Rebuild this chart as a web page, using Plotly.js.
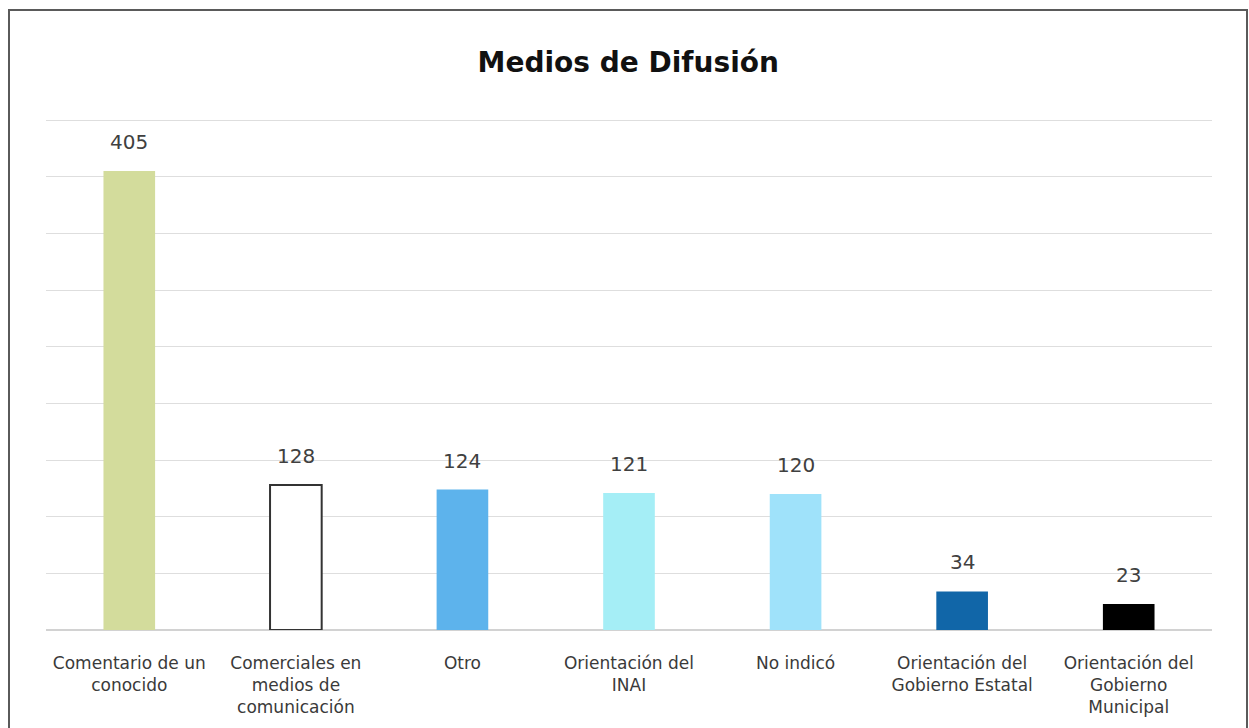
<!DOCTYPE html>
<html>
<head>
<meta charset="utf-8">
<script src="https://cdn.plot.ly/plotly-3.0.1.min.js"></script>
<style>
  html, body { margin: 0; padding: 0; background: #fff; }
  #wrap { position: relative; width: 1249px; height: 728px; }
  #chart { width: 1249px; height: 728px; }
  #frame { position: absolute; left: 8px; top: 9px; width: 1236px; height: 740px;
           border: 2px solid #5a5a5a; border-bottom: none; pointer-events: none; }
</style>
</head>
<body>
<div id="wrap">
  <div id="chart"></div>
  <div id="frame"></div>
</div>
<script>
const categories = [
  "Comentario de un<br>conocido",
  "Comerciales en<br>medios de<br>comunicación",
  "Otro",
  "Orientación del<br>INAI",
  "No indicó",
  "Orientación del<br>Gobierno Estatal",
  "Orientación del<br>Gobierno<br>Municipal"
];
const values = [405, 128, 124, 121, 120, 34, 23];
const barColors = ["#d3dc9c", "#ffffff", "#5db3ec", "#a5eef6", "#9fe2fa", "#1166a8", "#000000"];
const outlineColors = ["#d3dc9c", "#333333", "#5db3ec", "#a5eef6", "#9fe2fa", "#1166a8", "#000000"];
const outlineWidths = [0, 2, 0, 0, 0, 0, 0];

const trace = {
  type: "bar",
  x: categories,
  y: values,
  marker: { color: barColors, line: { color: outlineColors, width: outlineWidths } },
  hoverinfo: "x+y"
};

const annotations = categories.map((c, i) => ({
  x: c, y: values[i], xref: "x", yref: "y",
  text: String(values[i]), showarrow: false,
  yanchor: "middle", yshift: 29,
  font: { family: "DejaVu Sans, sans-serif", size: 20, color: "#404040" }
}));

const layout = {
  width: 1249, height: 728,
  margin: { l: 46, r: 37, t: 119, b: 98 },
  paper_bgcolor: "#ffffff", plot_bgcolor: "#ffffff",
  bargap: 0.69,
  showlegend: false,
  title: {
    text: "<b>Medios de Difusión</b>",
    x: 0.503, xanchor: "center", y: 0.915, yanchor: "middle", yref: "container",
    font: { family: "DejaVu Sans, sans-serif", size: 28, color: "#111111" }
  },
  xaxis: {
    type: "category",
    showgrid: false, showline: false, ticks: "",
    ticklabelstandoff: 21,
    tickfont: { family: "DejaVu Sans, sans-serif", size: 17, color: "#3a3a3a" }
  },
  yaxis: {
    range: [0, 451], tickvals: [50, 100, 150, 200, 250, 300, 350, 400, 450],
    showticklabels: false, ticks: "",
    showgrid: true, gridcolor: "#dedede", gridwidth: 1,
    zeroline: true, zerolinecolor: "#d2d2d2", zerolinewidth: 2,
    showline: false
  },
  annotations: annotations
};

Plotly.newPlot("chart", [trace], layout, { displayModeBar: false, staticPlot: true });
</script>
</body>
</html>
